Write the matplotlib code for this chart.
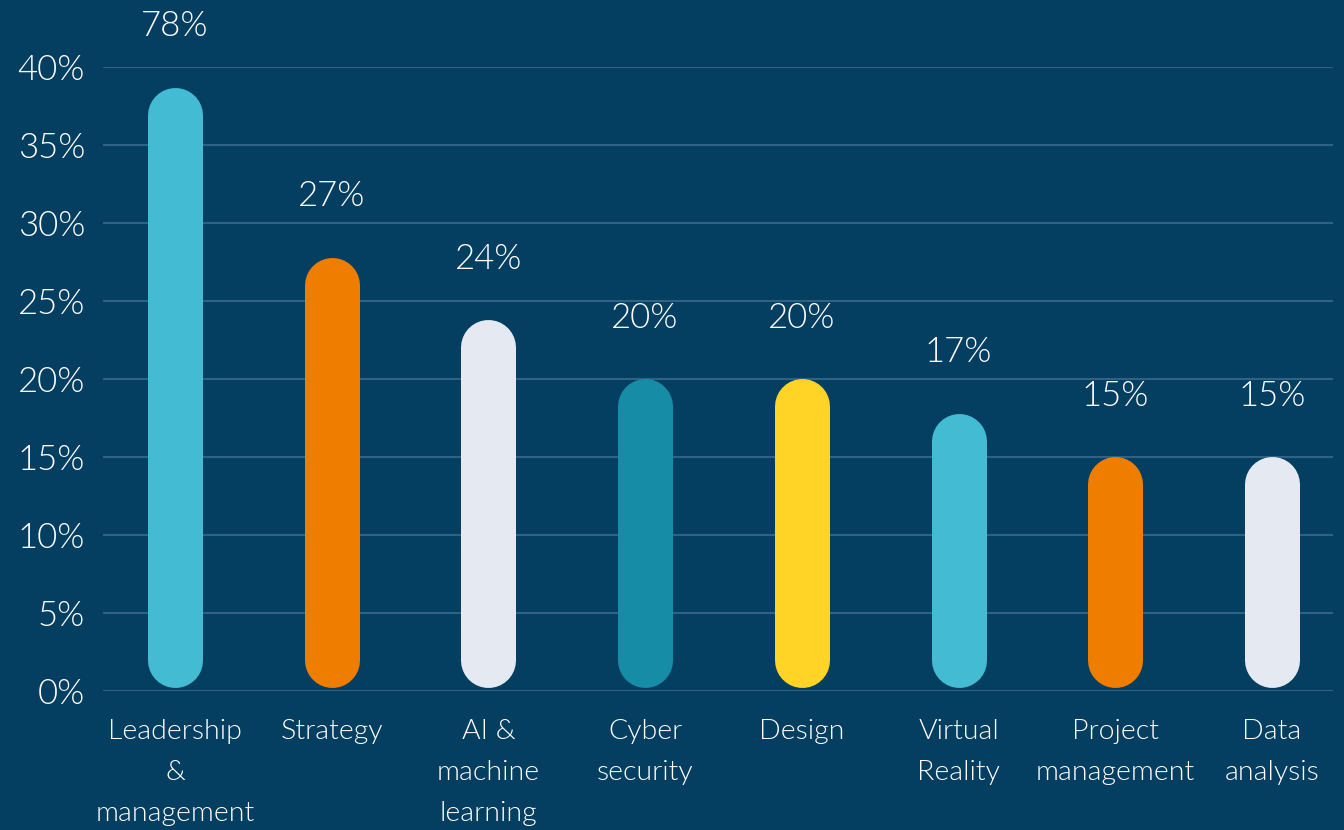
import numpy as np
import matplotlib
matplotlib.use('Agg')
import matplotlib.pyplot as plt

# Datos
categorias = ['Leadership\n&\nmanagement', 'Strategy', 'AI &\nmachine\nlearning',
              'Cyber\nsecurity', 'Design', 'Virtual\nReality',
              'Project\nmanagement', 'Data\nanalysis']
valores = [78, 27.8, 23.8, 20, 20, 17.8, 15, 15]   # alturas
etiquetas = ['78%', '27%', '24%', '20%', '20%', '17%', '15%', '15%']
colores = ['#43BCD3', '#EF7D00', '#E5EAF2', '#168CA6', '#FFD426',
           '#43BCD3', '#EF7D00', '#E5EAF2']
yticks = [0, 5, 10, 15, 20, 25, 30, 35, 40]

fondo = '#043E60'
rejilla = '#2F6285'
plt.rcParams['font.family'] = ['Lato', 'DejaVu Sans']
peso = 300

W, H, DPI = 1344, 830, 100
fig = plt.figure(figsize=(W / DPI, H / DPI), dpi=DPI, facecolor=fondo)
ax = fig.add_axes([103 / W, 1 - 691 / H, (1333 - 103) / W, (691 - 67) / H])
ax.set_facecolor(fondo)

ymax = 40
ax.set_ylim(0, ymax)
ax.set_xlim(-0.46, 7.39)

# radio de la barra en unidades de datos
ancho_px = 55
alto_ax_px = 691 - 67
r = (ancho_px / 2) / (alto_ax_px / ymax)
tope = 38.7  # la barra de 78% queda recortada en el gráfico

x = np.arange(len(categorias))
for xi, v, c, lab in zip(x, valores, colores, etiquetas):
    alto = min(v, tope)
    lc = ax.vlines(xi, 0.2 + r, alto - r, colors=c, linewidth=ancho_px * 72 / DPI, zorder=3)
    lc.set_capstyle('round')
    ax.text(xi, alto + 3.9, lab, ha='center', va='center', color='white',
            fontsize=25, fontweight=peso, clip_on=False)

ax.set_yticks(yticks)
ax.set_yticklabels([f'{t}%' for t in yticks])
ax.set_xticks(x)
ax.set_xticklabels(categorias, linespacing=1.8)
ax.tick_params(axis='y', length=0, pad=13, labelsize=25, labelcolor='white')
ax.tick_params(axis='x', length=0, pad=20, labelsize=20.5, labelcolor='white')
for t in ax.get_xticklabels() + ax.get_yticklabels():
    t.set_fontweight(peso)

ax.grid(axis='y', color=rejilla, linewidth=1.5, zorder=0)
for s in ax.spines.values():
    s.set_visible(False)

plt.savefig('out.png', dpi=DPI, facecolor=fondo)
